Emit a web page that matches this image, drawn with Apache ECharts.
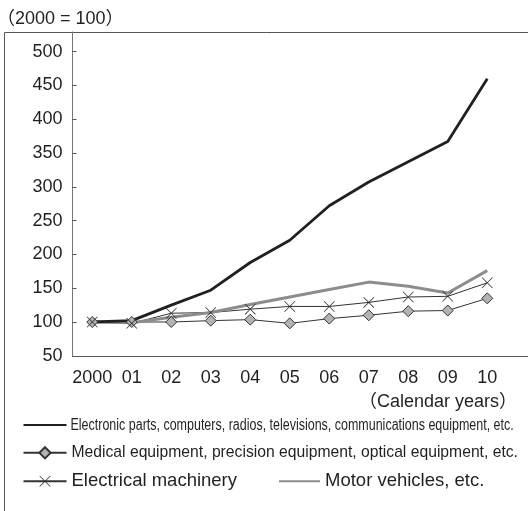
<!DOCTYPE html>
<html>
<head>
<meta charset="utf-8">
<script src="https://cdn.jsdelivr.net/npm/echarts@6/dist/echarts.min.js"></script>
<style>
  html, body { margin: 0; padding: 0; background: #fff; }
  #chart { width: 528px; height: 511px; }
</style>
</head>
<body>
<div id="chart"></div>
<script>
// 年份 (2000 = 100)
var years = ['2000', '01', '02', '03', '04', '05', '06', '07', '08', '09', '10']
var electronic = [100, 102, 125, 147, 188, 221, 272, 307, 337, 367, 460]
var medical = [100, 100, 100, 102, 103.5, 98, 105, 110, 116, 117, 135]
var electrical = [100, 98, 113, 114, 119, 123, 123, 129, 137, 138, 158]
var motor = [100, 99, 107, 114, 126, 137, 148, 159, 153, 143, 176]

var names = [
  'Electronic parts, computers, radios, televisions, communications equipment, etc.',
  'Medical equipment, precision equipment, optical equipment, etc.',
  'Electrical machinery',
  'Motor vehicles, etc.'
]

var font = "'Liberation Sans', Arial, 'Noto Sans CJK JP', sans-serif"
var ink = '#231f20'
// × 标记
var cross = 'path://M0,1L1,0L10,9L19,0L20,1L11,10L20,19L19,20L10,11L1,20L0,19L9,10Z'

var myChart = echarts.init(document.getElementById('chart'))

function legendRow (item, left, top, width, size) {
  return {
    data: [item],
    left: left,
    top: top,
    itemWidth: width,
    itemHeight: 14,
    selectedMode: false,
    padding: 0,
    textStyle: { color: ink, fontFamily: font, fontSize: size }
  }
}

var row1 = legendRow({ name: names[0], itemStyle: { opacity: 0 } }, 22.5, 418, 43, 16)
// 第一行文字是窄体，另外用 graphic 画
row1.formatter = function () { return '' }

var option = {
  animation: false,
  textStyle: { fontFamily: font },
  grid: {
    left: 72.5,
    top: 32,
    width: 474,
    height: 323.8,
    outerBoundsMode: 'none'
  },
  graphic: [
    {
      // 外框
      type: 'rect',
      z: -1,
      shape: { x: 4.5, y: 32.5, width: 700, height: 700 },
      style: { fill: 'none', stroke: '#555', lineWidth: 1 }
    },
    {
      type: 'text',
      x: -3,
      y: 19,
      style: { text: '（2000 = 100）', fontSize: 18, fontFamily: font, fill: ink, verticalAlign: 'middle' }
    },
    {
      type: 'text',
      x: 517,
      y: 402,
      style: { text: '（Calendar years）', fontSize: 18, fontFamily: font, fill: ink, align: 'right', verticalAlign: 'middle' }
    },
    {
      type: 'text',
      x: 70.5,
      y: 425.5,
      scaleX: 0.78,
      style: { text: names[0], fontSize: 16, fontFamily: font, fill: ink, verticalAlign: 'middle' }
    }
  ],
  legend: [
    row1,
    legendRow(names[1], 22.5, 445, 43, 15.7),
    legendRow(names[2], 22.5, 472, 43, 18.5),
    legendRow({ name: names[3], itemStyle: { opacity: 0 } }, 278, 472, 41, 18.5)
  ],
  xAxis: {
    type: 'category',
    boundaryGap: true,
    data: years.concat(['']),
    axisLine: { lineStyle: { color: '#555', width: 1 } },
    axisTick: { inside: true, length: 4, interval: 0, lineStyle: { color: '#555' } },
    axisLabel: { interval: 0, margin: 13, fontSize: 18, color: ink, fontFamily: font },
    splitLine: { show: false }
  },
  yAxis: {
    type: 'value',
    min: 50,
    max: 529,
    interval: 50,
    axisLine: { show: true, lineStyle: { color: '#777', width: 1 } },
    axisTick: { show: true, inside: true, length: 4, lineStyle: { color: '#555' } },
    axisLabel: { showMaxLabel: false, margin: 10, fontSize: 18, color: ink, fontFamily: font },
    splitLine: { show: false }
  },
  series: [
    {
      name: names[1],
      type: 'line',
      data: medical,
      symbol: 'diamond',
      symbolSize: 11,
      itemStyle: { color: '#b3b3b3', borderColor: '#333', borderWidth: 1 },
      lineStyle: { color: '#333', width: 1 }
    },
    {
      name: names[2],
      type: 'line',
      data: electrical,
      symbol: cross,
      symbolSize: 11,
      itemStyle: { color: '#333', borderWidth: 0 },
      lineStyle: { color: '#333', width: 1 }
    },
    {
      name: names[3],
      type: 'line',
      data: motor,
      symbol: 'none',
      itemStyle: { color: '#8c8c8c' },
      lineStyle: { color: '#8c8c8c', width: 3 }
    },
    {
      name: names[0],
      type: 'line',
      data: electronic,
      symbol: 'none',
      itemStyle: { color: ink },
      lineStyle: { color: ink, width: 2.8 }
    }
  ]
}
myChart.setOption(option)
</script>
</body>
</html>
